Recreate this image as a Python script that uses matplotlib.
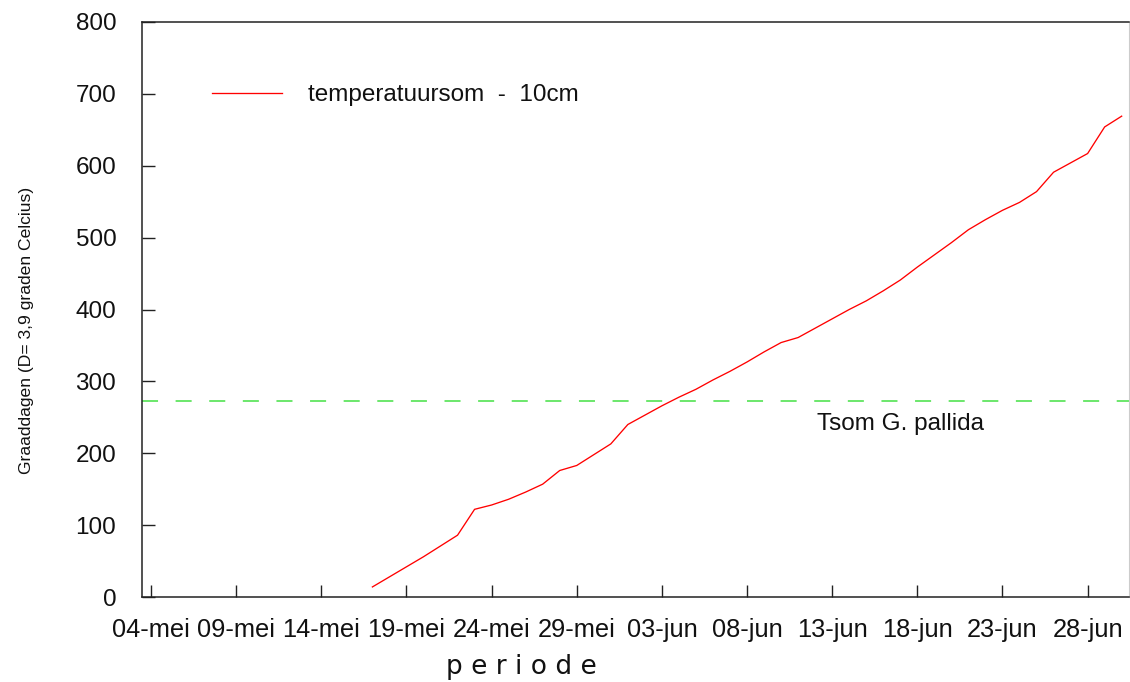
import matplotlib
matplotlib.use("Agg")
import matplotlib.pyplot as plt
import numpy as np

# ---- data ----
tick_labels = ["04-mei", "09-mei", "14-mei", "19-mei", "24-mei", "29-mei",
               "03-jun", "08-jun", "13-jun", "18-jun", "23-jun", "28-jun"]
tick_days = [0, 5, 10, 15, 20, 25, 30, 35, 40, 45, 50, 55]   # days after 04-mei
days = list(range(13, 58))                                  # 17-mei .. 30-jun
tempsom = [14, 28, 42, 56, 71, 86, 122, 128, 136, 146,
           157, 176, 183, 198, 213, 240, 253, 266, 278, 289,
           302, 314, 327, 341, 354, 361, 374, 387, 400, 412,
           426, 441, 459, 476, 493, 511, 525, 538, 549, 564,
           591, 604, 617, 654, 669]
threshold = 273
series_label = "temperatuursom  -  10cm"
threshold_label = "Tsom G. pallida"
ylabel = "Graaddagen (D= 3,9 graden Celcius)"
xlabel = "p e r i o d e"

plt.rcParams['font.family'] = ['Liberation Sans', 'DejaVu Sans']

fig = plt.figure(figsize=(11.3, 6.82), dpi=100)
ax = fig.add_axes([142 / 1130, 1 - 597 / 682, (1129 - 142) / 1130, (597 - 22) / 682])

line, = ax.plot(days, tempsom, color='#ff0000', lw=0.95, label=series_label)
ax.axhline(threshold, color='#44e044', lw=1.1, dashes=(10.5, 11.5))
ax.text(39.1, 241, threshold_label, fontsize=17.5, va='center', ha='left', color='#111111')

ax.set_xlim(-0.53, 57.43)
ax.set_ylim(0, 800)
ax.set_xticks(tick_days)
ax.set_xticklabels(tick_labels)
ax.set_yticks(np.arange(0, 801, 100))

ax.tick_params(axis='both', direction='in', length=9, width=1.0, color='#222222',
               labelcolor='#111111')
ax.tick_params(axis='x', pad=15.0, labelsize=18.3)
ax.tick_params(axis='y', pad=18.5, labelsize=17.5)

for s in ['left', 'bottom', 'top']:
    ax.spines[s].set_color('#222222')
    ax.spines[s].set_linewidth(1.1)
ax.spines['right'].set_color('#cccccc')
ax.spines['right'].set_linewidth(0.8)

leg = ax.legend(handles=[line], loc='center left', bbox_to_anchor=(0.0706, 0.8725),
                frameon=False, fontsize=17.5, handlelength=2.9, handletextpad=1.07,
                borderpad=0, borderaxespad=0)
for t in leg.get_texts():
    t.set_color('#111111')

fig.text(521 / 1130, 1 - 674 / 682, xlabel, fontsize=19, ha='center', va='baseline',
         family=['DejaVu Sans'], color='#111111')
fig.text(27 / 1130, 1 - 330 / 682, ylabel, fontsize=12.6, rotation=90, ha='center', va='center',
         family=['Liberation Sans Narrow', 'Liberation Sans', 'DejaVu Sans'], color='#111111')

fig.savefig("out.png", dpi=100, facecolor='white')
